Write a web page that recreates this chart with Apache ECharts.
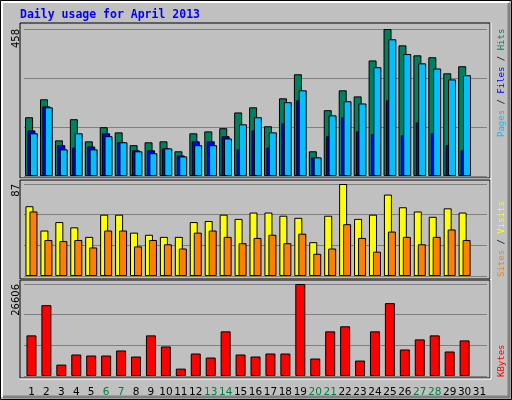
<!DOCTYPE html>
<html><head><meta charset="utf-8">
<script src="https://cdn.jsdelivr.net/npm/echarts@6/dist/echarts.min.js"></script>
<style>html,body{margin:0;padding:0;background:#c0c0c0}#c{width:512px;height:400px}</style>
</head><body><div id="c"></div>
<script>
var days = ['1','2','3','4','5','6','7','8','9','10','11','12','13','14','15','16','17','18','19','20','21','22','23','24','25','26','27','28','29','30','31'];
var weekend = ['6','7','13','14','20','21','27','28'];
var hits  = [183,239,111,177,108,152,136,96,105,108,77,133,139,149,198,214,155,242,317,77,205,267,248,360,458,407,376,370,320,342,null];
var pages = [142,217,96,89,92,133,105,80,80,86,64,108,108,124,83,142,89,164,236,58,124,183,139,130,236,127,167,133,96,80,null];
var files = [133,214,83,133,83,124,105,77,71,86,61,96,96,117,161,183,136,230,267,58,189,233,226,339,426,380,351,335,301,314,null];
var visits = [66,43,51,46,37,58,58,41,39,37,37,51,52,58,54,60,60,57,55,32,57,87,54,58,77,65,61,56,64,60,null];
var sites  = [61,34,33,34,27,43,43,28,34,30,26,41,43,37,31,36,39,31,40,21,26,49,36,23,42,37,30,37,44,34,null];
var kbytes = [11749,20488,3301,6214,5923,5923,7380,5632,11749,8545,2136,6506,5341,12914,6214,5632,6506,6506,26606,5049,12914,14371,4467,12914,21071,7671,10584,11749,7088,10293,null];
var maxHits = 458, maxVisits = 87, maxKB = 26606;

var mono = 'DejaVu Sans Mono';
function yAx(gi, max){
  return {type:'value', gridIndex:gi, min:0, max:max, interval:max/3,
    axisLine:{show:false}, axisTick:{show:false},
    splitLine:{lineStyle:{color:'#808080',width:1}},
    axisLabel:{rotate:90, margin:3, color:'#000', fontFamily:'DejaVu Sans', fontSize:10,
      verticalAlign:'bottom', align:'right',
      formatter:function(v){return v>=max-0.5? String(max):'';}}};
}
function xAx(gi, show){
  return {type:'category', gridIndex:gi, data:days, axisTick:{show:false},
    axisLine:{show:false},
    axisLabel:{show:show, margin:11, fontFamily:'DejaVu Sans', fontSize:10.5, interval:0,
      color:function(v){return weekend.indexOf(v)>=0?'#008040':'#000';}}};
}
var bs = {borderColor:'#000', borderWidth:1};
function panel(y,h){
  return [{type:'rect',shape:{x:20,y:y,width:470,height:h},style:{fill:'#c0c0c0',stroke:'#000',lineWidth:1},z:-10},
          {type:'polyline',shape:{points:[[20,y+h+1],[491,y+h+1],[491,y]]},style:{stroke:'#fff',lineWidth:1,fill:null},z:-10}];
}
function rlabel(y, parts){
  return {type:'text', x:502, y:y, rotation:Math.PI/2,
    style:{text:parts.map(function(p){return '{'+p[0]+'|'+p[1]+'}';}).join(''),
      align:'left', verticalAlign:'middle',
      rich:(function(){var r={};parts.forEach(function(p){r[p[0]]={fill:p[2],fontFamily:mono,fontSize:9};});return r;})()}};
}
var chart = echarts.init(document.getElementById('c'), null, {renderer:'canvas'});
chart.setOption({
  backgroundColor:'#c0c0c0',
  animation:false,
  graphic:[
    {type:'rect',shape:{x:0.5,y:0.5,width:511,height:399},style:{fill:null,stroke:'#000',lineWidth:1},z:-20},
    {type:'polyline',shape:{points:[[2,397],[2,2],[509,2]]},style:{stroke:'#fff',lineWidth:2,fill:null},z:-20},
    {type:'polyline',shape:{points:[[3,397],[509,397],[509,3]]},style:{stroke:'#808080',lineWidth:3,fill:null},z:-20},
    {type:'text',x:20,y:15,style:{text:'Daily usage for April 2013',fill:'#0000ff',fontFamily:mono,fontWeight:'bold',fontSize:11.5,verticalAlign:'middle'}},
    rlabel(137,[['a','Pages','#00c0ff'],['b',' / ','#000'],['c','Files','#0000ff'],['b',' / ','#000'],['d','Hits','#008060']]),
    rlabel(277,[['a','Sites','#ff8000'],['b',' / ','#000'],['c','Visits','#ffff00']]),
    rlabel(377,[['a','KBytes','#ff0000']])
  ].concat(panel(23,155), panel(180,99), panel(280,98)),
  grid:[
    {left:24,right:25,top:29,height:147},
    {left:24,right:25,top:184,height:92},
    {left:24,right:25,top:284,height:92}
  ],
  xAxis:[xAx(0,false),xAx(1,false),xAx(2,true)],
  yAxis:[yAx(0,maxHits),yAx(1,maxVisits),yAx(2,maxKB)],
  series:[
    {type:'bar',name:'Hits',xAxisIndex:0,yAxisIndex:0,data:hits,barWidth:8,barGap:'-70%',itemStyle:Object.assign({color:'#008060'},bs)},
    {type:'bar',name:'Pages',xAxisIndex:0,yAxisIndex:0,data:pages,barWidth:8,barGap:'-70%',itemStyle:Object.assign({color:'#0000ff'},bs)},
    {type:'bar',name:'Files',xAxisIndex:0,yAxisIndex:0,data:files,barWidth:8,barGap:'-70%',itemStyle:Object.assign({color:'#00c0ff'},bs)},
    {type:'bar',name:'Visits',xAxisIndex:1,yAxisIndex:1,data:visits,barWidth:8,barGap:'-50%',itemStyle:Object.assign({color:'#ffff00'},bs)},
    {type:'bar',name:'Sites',xAxisIndex:1,yAxisIndex:1,data:sites,barWidth:8,barGap:'-50%',itemStyle:Object.assign({color:'#ff8000'},bs)},
    {type:'bar',name:'KBytes',xAxisIndex:2,yAxisIndex:2,data:kbytes,barWidth:10,itemStyle:Object.assign({color:'#ff0000'},bs)}
  ]
});
</script></body></html>
